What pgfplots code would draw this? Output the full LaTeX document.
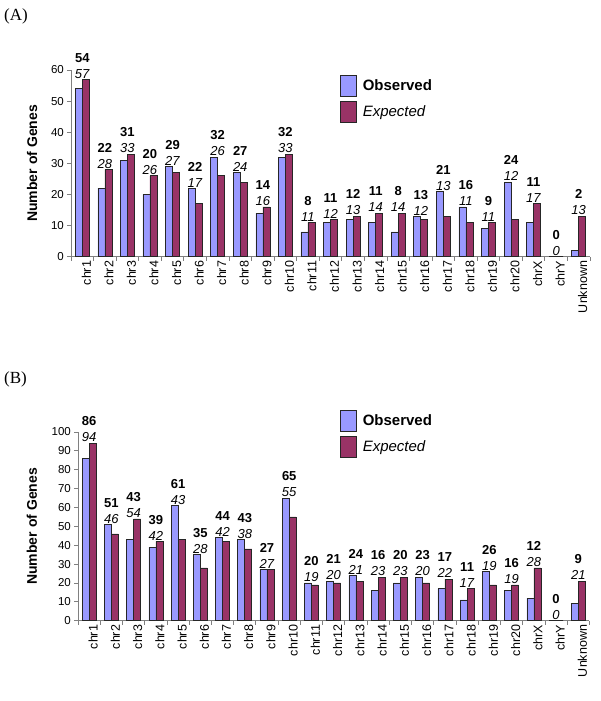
\documentclass[border=0pt]{standalone}
\usepackage{pgfplots}
\pgfplotsset{compat=1.18}
\usepackage{pgfplotstable}
\usepackage{fontspec}
\setmainfont{Liberation Sans}
\newfontfamily\timesfont{Liberation Serif}
\definecolor{obsblue}{RGB}{153,153,255}
\definecolor{expplum}{RGB}{153,51,102}

\pgfplotstableread{
x obs exp top
0 54 57 57
1 22 28 28
2 31 33 33
3 20 26 26
4 29 27 29
5 22 17 22
6 32 26 32
7 27 24 27
8 14 16 16
9 32 33 33
10 8 11 11
11 11 12 12
12 12 13 13
13 11 14 14
14 8 14 14
15 13 12 13
16 21 13 21
17 16 11 16
18 9 11 11
19 24 12 24
20 11 17 17
21 0 0 0
22 2 13 13
}\dataA

\pgfplotstableread{
x obs exp top
0 86 94 94
1 51 46 51
2 43 54 54
3 39 42 42
4 61 43 61
5 35 28 35
6 44 42 44
7 43 38 43
8 27 27 27
9 65 55 65
10 20 19 20
11 21 20 21
12 24 21 24
13 16 23 23
14 20 23 23
15 23 20 23
16 17 22 22
17 11 17 17
18 26 19 26
19 16 19 19
20 12 28 28
21 0 0 0
22 9 21 21
}\dataB

\pgfplotsset{
  /pgf/number format/assume math mode=true,
  chrbase/.style={
    scale only axis, clip=false,
    xmin=-0.5, xmax=22.5, ymin=0,
    axis x line=bottom, axis y line=left,
    axis line style={-, draw=gray, line width=0.8pt},
    tick align=outside, major tick length=4pt, minor tick length=4pt,
    tick style={draw=gray, line width=0.8pt},
    xtick={0,...,22},
    xticklabels={chr1,chr2,chr3,chr4,chr5,chr6,chr7,chr8,chr9,chr10,chr11,chr12,chr13,chr14,chr15,chr16,chr17,chr18,chr19,chr20,chrX,chrY,Unknown},
    major x tick style={draw=none},
    minor xtick={-0.5,0.5,...,22.5},
    xticklabel style={rotate=90, anchor=east, inner sep=0pt, yshift=-4pt, font=\fontsize{12.5}{14}\selectfont},
    yticklabel style={inner sep=0pt, xshift=-3pt, font=\fontsize{11.5}{13}\selectfont},
    ylabel={Number of Genes},
    legend cell align=left,
    legend style={draw=none, fill=none, inner sep=0pt, anchor=north west,
      column sep=6pt, row sep=4pt, font=\fontsize{15}{18}\selectfont,
      nodes={inner sep=0pt}},
  },
  obsbar/.style={ybar, bar width=7pt, bar shift=-3.5pt, fill=obsblue, draw=black!85, line width=0.6pt,
    legend image code/.code={\draw[fill=obsblue, draw=black!85, line width=0.6pt] (0pt,-10.5pt) rectangle (16pt,10.5pt);}},
  expbar/.style={ybar, bar width=7pt, bar shift=3.5pt, fill=expplum, draw=black!85, line width=0.6pt,
    legend image code/.code={\draw[fill=expplum, draw=black!85, line width=0.6pt] (0pt,-10.5pt) rectangle (16pt,10.5pt);}},
  valuelabels/.style={draw=none, mark=none,
    visualization depends on={\thisrow{obs}\as\vobs},
    visualization depends on={\thisrow{exp}\as\vexp},
    nodes near coords={\textbf{\pgfmathprintnumber[fixed,precision=0]{\vobs}}\\\textit{\pgfmathprintnumber[fixed,precision=0]{\vexp}}},
    every node near coord/.append style={align=center, anchor=south, inner sep=1pt,
      font=\fontsize{13}{16}\selectfont}},
}

\begin{document}
\begin{tikzpicture}
\path[use as bounding box] (0pt,0pt) rectangle (600pt,701pt);
\node[anchor=west, inner sep=0pt, font=\timesfont\fontsize{17}{20}\selectfont] at (4pt,685pt) {(A)};
\node[anchor=west, inner sep=0pt, font=\timesfont\fontsize{17}{20}\selectfont] at (4pt,321.5pt) {(B)};

\begin{axis}[chrbase, at={(71pt,444.3pt)}, anchor=south west,
  width=519pt, height=186.7pt, ymax=60, ytick={0,10,...,60},
  ylabel style={font=\bfseries\fontsize{14}{16}\selectfont, at={(axis description cs:-0.0751,0.5)}, anchor=center},
  legend style={at={(axis description cs:0.5183,0.9732)}}]
\addplot[obsbar] table[x=x, y=obs] {\dataA};
\addlegendentry{\textbf{Observed}}
\addplot[expbar] table[x=x, y=exp] {\dataA};
\addlegendentry{\textit{Expected}}
\addplot[valuelabels, forget plot] table[x=x, y=top] {\dataA};
\end{axis}

\begin{axis}[chrbase, at={(78pt,80.3pt)}, anchor=south west,
  width=511.4pt, height=188.7pt, ymax=100, ytick={0,10,...,100},
  ylabel style={font=\bfseries\fontsize{14}{16}\selectfont, at={(axis description cs:-0.09,0.5)}, anchor=center},
  legend style={at={(axis description cs:0.5123,1.1166)}}]
\addplot[obsbar] table[x=x, y=obs] {\dataB};
\addlegendentry{\textbf{Observed}}
\addplot[expbar] table[x=x, y=exp] {\dataB};
\addlegendentry{\textit{Expected}}
\addplot[valuelabels, forget plot] table[x=x, y=top] {\dataB};
\end{axis}
\end{tikzpicture}
\end{document}
